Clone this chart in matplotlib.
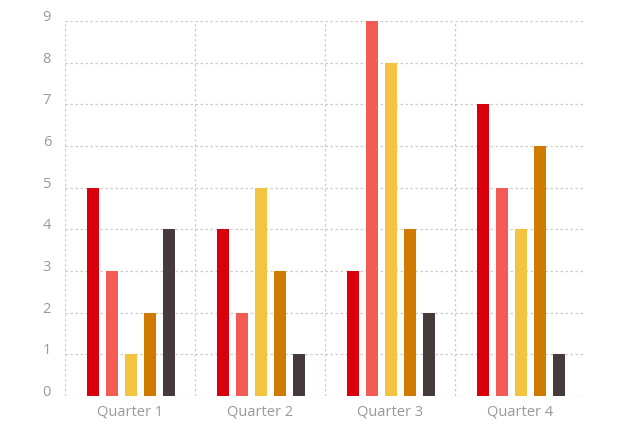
import matplotlib
matplotlib.use("Agg")
import matplotlib.pyplot as plt
import numpy as np

categories = ["Quarter 1", "Quarter 2", "Quarter 3", "Quarter 4"]
series = [
    [5, 4, 3, 7],
    [3, 2, 9, 5],
    [1, 5, 8, 4],
    [2, 3, 4, 6],
    [4, 1, 2, 1],
]
colors = ["#d9000b", "#f25c54", "#f4c33f", "#d17a00", "#453b3d"]
yticks = list(range(0, 10))

plt.rcParams['font.family'] = ['Open Sans', 'DejaVu Sans']
fig = plt.figure(figsize=(6.2, 4.32), dpi=100)
ax = fig.add_axes([65/620, 36/432, 520/620, 375/432])

x = np.arange(len(categories))
w = 0.096
step = 0.146
n = len(series)
for i, vals in enumerate(series):
    ax.bar(x + (i - (n - 1) / 2) * step + 0.008, vals, width=w, color=colors[i], zorder=3)

ax.set_xlim(-0.5, len(categories) - 0.5)
ax.set_ylim(0, 9)
ax.set_yticks(yticks)
ax.set_yticklabels([str(t) for t in yticks])
for t in yticks:
    ax.axhline(t, color="#cccccc", lw=0.9, ls=(0, (2, 2)), zorder=1)
for b in np.arange(-0.5, len(categories) - 0.5, 1.0):
    ax.axvline(b, color="#cccccc", lw=0.9, ls=(0, (2, 2)), zorder=1)
for s in ax.spines.values():
    s.set_visible(False)
ax.set_xticks(x)
ax.set_xticklabels(categories)
ax.tick_params(axis='both', length=0, colors="#999999")
ax.tick_params(axis='x', pad=6, labelsize=10.5)
ax.tick_params(axis='y', pad=10, labelsize=10.5)
for lab in ax.get_yticklabels():
    lab.set_verticalalignment('baseline')
fig.savefig("out.png", dpi=100)
